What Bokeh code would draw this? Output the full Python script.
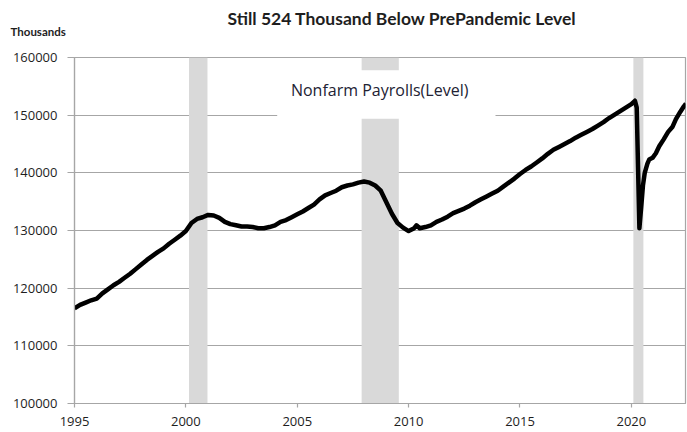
from bokeh.plotting import figure
from bokeh.models import Range1d, Label, Title, BasicTickFormatter, FixedTicker
from bokeh.embed import file_html
from bokeh.resources import INLINE

# ---- data (thousands of jobs) ----
years = [
    1995.0, 1995.25, 1995.5, 1995.75, 1996.0, 1996.25, 1996.5, 1996.75,
    1997.0, 1997.25, 1997.5, 1997.75, 1998.0, 1998.25, 1998.5, 1998.75,
    1999.0, 1999.25, 1999.5, 1999.75, 2000.0, 2000.25, 2000.5, 2000.75,
    2001.0, 2001.25, 2001.5, 2001.75, 2002.0, 2002.25, 2002.5, 2002.75,
    2003.0, 2003.25, 2003.5, 2003.75, 2004.0, 2004.25, 2004.5, 2004.75,
    2005.0, 2005.25, 2005.5, 2005.75, 2006.0, 2006.25, 2006.5, 2006.75,
    2007.0, 2007.25, 2007.5, 2007.75, 2008.0, 2008.25, 2008.5, 2008.75,
    2009.0, 2009.25, 2009.5, 2009.75, 2010.0, 2010.25, 2010.35, 2010.5, 2010.75,
    2011.0, 2011.25, 2011.5, 2011.75, 2012.0, 2012.25, 2012.5, 2012.75,
    2013.0, 2013.25, 2013.5, 2013.75, 2014.0, 2014.25, 2014.5, 2014.75,
    2015.0, 2015.25, 2015.5, 2015.75, 2016.0, 2016.25, 2016.5, 2016.75,
    2017.0, 2017.25, 2017.5, 2017.75, 2018.0, 2018.25, 2018.5, 2018.75,
    2019.0, 2019.25, 2019.5, 2019.75, 2020.0, 2020.16, 2020.24, 2020.36,
    2020.44, 2020.52, 2020.6, 2020.72, 2020.8, 2020.95, 2021.1, 2021.25,
    2021.45, 2021.65, 2021.85, 2022.0, 2022.2, 2022.35, 2022.45,
]
payrolls = [
    116500, 117100, 117500, 117900, 118200, 119100, 119800, 120500,
    121100, 121800, 122500, 123300, 124100, 124900, 125600, 126300,
    126900, 127700, 128400, 129100, 129900, 131300, 132000, 132300,
    132700, 132600, 132200, 131500, 131100, 130900, 130700, 130700,
    130600, 130400, 130400, 130600, 130900, 131500, 131800, 132300,
    132800, 133300, 133900, 134500, 135400, 136100, 136500, 136900,
    137500, 137800, 138000, 138300, 138500, 138300, 137800, 136900,
    134900, 132900, 131300, 130500, 129900, 130400, 130900, 130400, 130600,
    130900, 131500, 131900, 132400, 133000, 133400, 133800, 134300,
    134900, 135400, 135900, 136400, 136900, 137600, 138300, 139000,
    139800, 140500, 141100, 141800, 142500, 143300, 144000, 144500,
    145000, 145500, 146100, 146600, 147100, 147600, 148200, 148800,
    149500, 150100, 150700, 151300, 151900, 152500, 151300, 130400,
    134000, 137800, 140000, 141600, 142300, 142600, 143400, 144600,
    145800, 147100, 148000, 149300, 150600, 151500, 152000,
]
recession_start = [2000.14, 2007.89, 2020.09]
recession_end = [2000.97, 2009.56, 2020.54]
x_ticks = [1995, 2000, 2005, 2010, 2015, 2020]
y_ticks = [100000, 110000, 120000, 130000, 140000, 150000, 160000]
title_text = "Still 524 Thousand  Below PrePandemic Level"
series_label = "Nonfarm Payrolls(Level)"
unit_label = "Thousands"

GRID = "#a6a6a6"
TEXT = "#1e1e1e"

p = figure(
    width=687, height=432,
    x_range=Range1d(1995, 2022.43), y_range=Range1d(100000, 160000),
    output_backend="svg", toolbar_location=None,
    min_border_left=74, min_border_right=2, min_border_top=57, min_border_bottom=29,
)
p.title.visible = False
p.background_fill_color = "white"
p.border_fill_color = "white"
p.outline_line_color = GRID
p.outline_line_width = 1.2

# recession shading
p.quad(left=recession_start, right=recession_end, bottom=100000, top=160000,
       fill_color="#d9d9d9", line_color=None)

# white box behind the series label
p.quad(left=[2004.10], right=[2013.90], bottom=[149400], top=[157800],
       fill_color="white", line_color=None)

# payroll line
p.line(years, payrolls, line_width=4.5, line_color="black", line_join="round")

# axes
p.xaxis.ticker = FixedTicker(ticks=x_ticks)
p.yaxis.ticker = FixedTicker(ticks=y_ticks)
p.yaxis.formatter = BasicTickFormatter(use_scientific=False)
for ax in (p.xaxis[0], p.yaxis[0]):
    ax.axis_line_color = GRID
    ax.axis_line_width = 1.2
    ax.major_tick_line_color = GRID
    ax.major_tick_line_width = 1.2
    ax.minor_tick_line_color = None
    ax.major_tick_in = 0
    ax.major_label_text_font = "Open Sans"
    ax.major_label_text_font_size = "13px"
    ax.major_label_text_color = TEXT
p.yaxis.major_tick_out = 7
p.yaxis.major_label_standoff = 10
p.xaxis.major_tick_out = 4
p.xaxis.major_label_standoff = 9

p.xgrid.grid_line_color = None
p.ygrid.grid_line_color = GRID
p.ygrid.grid_line_width = 1.2

# header texts (first added sits nearest the frame)
p.add_layout(Title(text=unit_label, align="left", offset=-64, standoff=40,
                   text_font="Lato", text_font_style="bold",
                   text_font_size="11.5px", text_color=TEXT), "above")
p.add_layout(Title(text=title_text, align="left", offset=153, standoff=-52,
                   text_font="Lato", text_font_style="bold",
                   text_font_size="17.5px", text_color=TEXT), "above")

# series label inside the chart
p.add_layout(Label(x=2008.70, y=154400, text=series_label, text_align="center",
                   text_baseline="middle", text_font="Open Sans",
                   text_font_size="16px", text_color="#222233"))

open("out.html", "w").write(file_html(p, INLINE))
